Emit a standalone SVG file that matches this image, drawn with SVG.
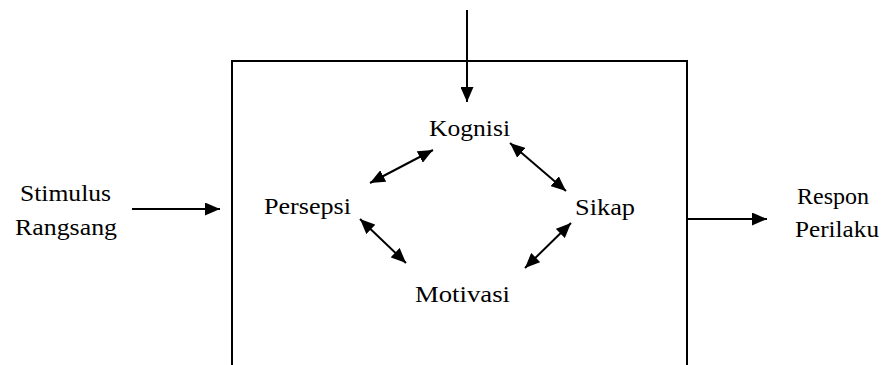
<svg xmlns="http://www.w3.org/2000/svg" width="883" height="365" viewBox="0 0 883 365">
<style>
.t{fill:#000;text-anchor:middle}
.ln{stroke:#000;stroke-width:2;fill:none}
</style>
<defs>
<marker id="ah" viewBox="0 0 15 13" refX="15" refY="6.5" markerWidth="15" markerHeight="13" markerUnits="userSpaceOnUse" orient="auto-start-reverse">
<path d="M0,0 L15,6.5 L0,13 Z" fill="#000"/>
</marker>
</defs>
<g id="box"><path class="ln" d="M232,365 V61 H687 V365"/></g>
<g font-family="Liberation Serif, Times New Roman, DejaVu Serif, serif" font-size="23">
<g id="kognisi"><text class="t" x="469.5" y="136" textLength="81" lengthAdjust="spacingAndGlyphs">Kognisi</text></g>
<g id="persepsi"><text class="t" x="307.5" y="214" textLength="87" lengthAdjust="spacingAndGlyphs">Persepsi</text></g>
<g id="sikap"><text class="t" x="605" y="215" textLength="60" lengthAdjust="spacingAndGlyphs">Sikap</text></g>
<g id="motivasi"><text class="t" x="462.5" y="302" textLength="95" lengthAdjust="spacingAndGlyphs">Motivasi</text></g>
<g id="stimulus"><text class="t" x="65.5" y="201" textLength="91" lengthAdjust="spacingAndGlyphs">Stimulus</text><text class="t" x="66" y="235" textLength="102" lengthAdjust="spacingAndGlyphs">Rangsang</text></g>
<g id="respon"><text class="t" x="833" y="204" textLength="72" lengthAdjust="spacingAndGlyphs">Respon</text><text class="t" x="837" y="237" textLength="84" lengthAdjust="spacingAndGlyphs">Perilaku</text></g>
</g>
<g id="connectors">
<line class="ln" x1="467" y1="10" x2="467" y2="102" marker-end="url(#ah)"/>
<line class="ln" x1="132" y1="209" x2="220" y2="209" marker-end="url(#ah)"/>
<line class="ln" x1="688" y1="219" x2="767" y2="219" marker-end="url(#ah)"/>
<line class="ln" x1="370" y1="183" x2="433" y2="150" marker-start="url(#ah)" marker-end="url(#ah)"/>
<line class="ln" x1="510" y1="143" x2="566" y2="191" marker-start="url(#ah)" marker-end="url(#ah)"/>
<line class="ln" x1="360" y1="219" x2="406" y2="263" marker-start="url(#ah)" marker-end="url(#ah)"/>
<line class="ln" x1="571" y1="223" x2="525" y2="268" marker-start="url(#ah)" marker-end="url(#ah)"/>
</g>
</svg>
